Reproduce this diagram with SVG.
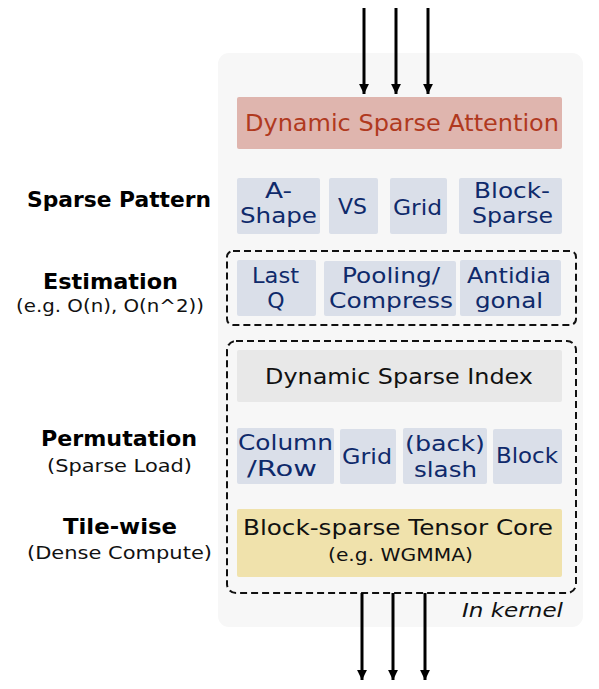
<svg xmlns="http://www.w3.org/2000/svg" width="599" height="689" viewBox="0 0 599 689">
<defs>
<marker id="ah" viewBox="0 0 10 10" refX="10" refY="5" markerWidth="3.3" markerHeight="3.3" orient="auto" markerUnits="strokeWidth">
<path d="M0,0 L10,5 L0,10 z" fill="#000"/>
</marker>
<style>
text{font-family:"DejaVu Sans","Open Sans",sans-serif;}
.lbl{font-weight:bold;font-size:20.5px;fill:#000;text-anchor:middle;}
.sub{font-size:17.5px;fill:#111;text-anchor:middle;}
.blue{fill:#dadfe9;}
.bt{font-size:22px;fill:#0f2a6b;text-anchor:middle;}
.dash{fill:none;stroke:#111;stroke-width:2;stroke-dasharray:7,4;}
.arr{stroke:#000;stroke-width:3;fill:none;marker-end:url(#ah);}
</style>
</defs>
<rect x="0" y="0" width="599" height="689" fill="#fff"/>
<rect id="panel" x="218" y="53" width="365" height="574" rx="11" fill="#f7f7f7"/>

<g id="labels">
<text class="lbl" x="119" y="207" textLength="184" lengthAdjust="spacingAndGlyphs">Sparse Pattern</text>
<text class="lbl" x="110.5" y="289" textLength="135" lengthAdjust="spacingAndGlyphs">Estimation</text>
<text class="sub" x="110" y="312" textLength="188" lengthAdjust="spacingAndGlyphs">(e.g. O(n), O(n^2))</text>
<text class="lbl" x="119" y="446" textLength="156" lengthAdjust="spacingAndGlyphs">Permutation</text>
<text class="sub" x="119.5" y="472" textLength="145" lengthAdjust="spacingAndGlyphs">(Sparse Load)</text>
<text class="lbl" x="120" y="534" textLength="114" lengthAdjust="spacingAndGlyphs">Tile-wise</text>
<text class="sub" x="119.5" y="559" textLength="185" lengthAdjust="spacingAndGlyphs">(Dense Compute)</text>
</g>

<g id="dsa">
<rect x="237" y="97" width="325" height="52" rx="2" fill="#dfb5ae"/>
<text x="402" y="131" font-size="23" fill="#b0391e" text-anchor="middle" textLength="314" lengthAdjust="spacingAndGlyphs">Dynamic Sparse Attention</text>
</g>

<g id="ashape"><rect class="blue" x="237" y="178" width="83" height="56" rx="2"/>
<text class="bt" x="278.5" y="198" textLength="27" lengthAdjust="spacingAndGlyphs">A-</text><text class="bt" x="278.5" y="223" textLength="77" lengthAdjust="spacingAndGlyphs">Shape</text></g>
<g id="vs"><rect class="blue" x="329" y="178" width="49" height="56" rx="2"/>
<text class="bt" x="352.5" y="214" textLength="29" lengthAdjust="spacingAndGlyphs">VS</text></g>
<g id="grid1"><rect class="blue" x="390" y="178" width="57" height="56" rx="2"/>
<text class="bt" x="417.5" y="215" textLength="49" lengthAdjust="spacingAndGlyphs">Grid</text></g>
<g id="blocksparse"><rect class="blue" x="459" y="178" width="103" height="56" rx="2"/>
<text class="bt" x="512" y="198" textLength="76" lengthAdjust="spacingAndGlyphs">Block-</text><text class="bt" x="512.5" y="223" textLength="81" lengthAdjust="spacingAndGlyphs">Sparse</text></g>

<g id="estimation">
<rect class="dash" x="227" y="251" width="349" height="74" rx="6"/>
</g>
<g id="lastq"><rect class="blue" x="237" y="260" width="79" height="56" rx="2"/>
<text class="bt" x="275.5" y="283" textLength="47" lengthAdjust="spacingAndGlyphs">Last</text><text class="bt" x="276" y="308">Q</text></g>
<g id="pooling"><rect class="blue" x="324" y="261" width="132" height="55" rx="2"/>
<text class="bt" x="391" y="283" textLength="98" lengthAdjust="spacingAndGlyphs">Pooling/</text><text class="bt" x="391" y="308" textLength="124" lengthAdjust="spacingAndGlyphs">Compress</text></g>
<g id="antidiag"><rect class="blue" x="460" y="260" width="101" height="56" rx="2"/>
<text class="bt" x="509" y="283" textLength="84" lengthAdjust="spacingAndGlyphs">Antidia</text><text class="bt" x="509" y="308" textLength="68" lengthAdjust="spacingAndGlyphs">gonal</text></g>

<g id="kernelbox">
<rect class="dash" x="227" y="341" width="349" height="252" rx="9"/>
</g>
<g id="dsi"><rect x="237" y="350" width="325" height="52" rx="2" fill="#e8e8e8"/>
<text x="399" y="384" font-size="22" fill="#111" text-anchor="middle" textLength="268" lengthAdjust="spacingAndGlyphs">Dynamic Sparse Index</text></g>

<g id="colrow"><rect class="blue" x="237" y="428" width="97" height="56" rx="2"/>
<text class="bt" x="285.5" y="450" textLength="95" lengthAdjust="spacingAndGlyphs">Column</text><text class="bt" x="282" y="476" textLength="70" lengthAdjust="spacingAndGlyphs">/Row</text></g>
<g id="grid2"><rect class="blue" x="340" y="429" width="56" height="55" rx="2"/>
<text class="bt" x="367" y="464" textLength="50" lengthAdjust="spacingAndGlyphs">Grid</text></g>
<g id="slash"><rect class="blue" x="403" y="428" width="84" height="56" rx="2"/>
<text class="bt" x="445" y="451" textLength="80" lengthAdjust="spacingAndGlyphs">(back)</text><text class="bt" x="445.5" y="477" textLength="63" lengthAdjust="spacingAndGlyphs">slash</text></g>
<g id="block"><rect class="blue" x="493" y="429" width="69" height="55" rx="2"/>
<text class="bt" x="527" y="463" textLength="62" lengthAdjust="spacingAndGlyphs">Block</text></g>

<g id="tensorcore"><rect x="237" y="509" width="325" height="68" rx="2" fill="#f0e2ac"/>
<text x="398" y="535" font-size="21.5" fill="#111" text-anchor="middle" textLength="310" lengthAdjust="spacingAndGlyphs">Block-sparse Tensor Core</text>
<text x="400.5" y="561" font-size="18" fill="#111" text-anchor="middle" textLength="145" lengthAdjust="spacingAndGlyphs">(e.g. WGMMA)</text></g>

<text id="inkernel" x="563" y="617" font-size="20" font-style="italic" fill="#111" text-anchor="end" textLength="101" lengthAdjust="spacingAndGlyphs">In kernel</text>

<g id="connectors">
<line class="arr" x1="364" y1="8" x2="364" y2="94"/>
<line class="arr" x1="396" y1="8" x2="396" y2="94"/>
<line class="arr" x1="428" y1="8" x2="428" y2="94"/>
<line class="arr" x1="362" y1="593" x2="362" y2="680"/>
<line class="arr" x1="393" y1="593" x2="393" y2="680"/>
<line class="arr" x1="425" y1="593" x2="425" y2="680"/>
</g>
</svg>
